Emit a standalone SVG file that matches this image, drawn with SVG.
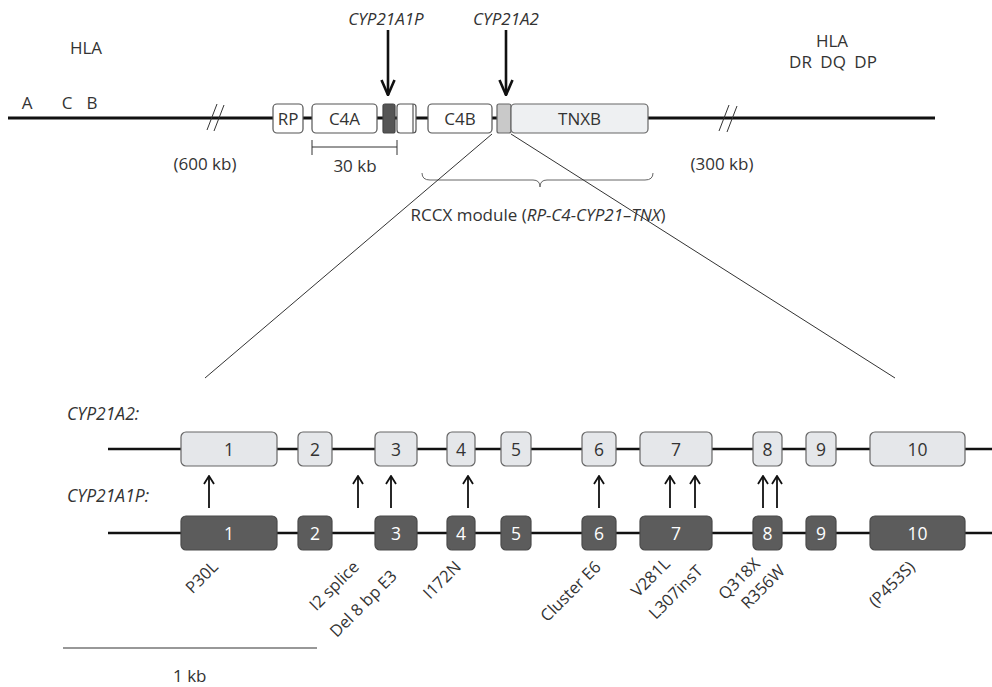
<svg xmlns="http://www.w3.org/2000/svg" width="992" height="687" viewBox="0 0 992 687">
<style>
text{font-family:"Open Sans","Noto Sans","Liberation Sans",sans-serif;fill:#333;font-size:17px}
.it{font-style:italic}
.c{text-anchor:middle}
.n{font-size:17.5px}
.chrom{stroke:#111;stroke-width:3;fill:none}
.gl{stroke:#111;stroke-width:2.5;fill:none}
.tb{stroke:#555;stroke-width:1.2;fill:#fff}
.ex1{fill:#e5e7ea;stroke:#666;stroke-width:1.2}
.ex2{fill:#5c5c5c;stroke:#4a4a4a;stroke-width:1.2}
.wt{fill:#fff}
.thin{stroke:#333;stroke-width:1;fill:none}
.arr{stroke:#111;stroke-width:1.8;fill:none}
.big{stroke:#111;stroke-width:2.6;fill:none}
.rot{text-anchor:end;font-size:16.5px}
</style>
<defs>
<marker id="ah" viewBox="0 0 10 12" refX="9" refY="6" markerWidth="10" markerHeight="12" markerUnits="userSpaceOnUse" orient="auto">
<path d="M1,1 L9,6 L1,11" fill="none" stroke="#111" stroke-width="1.8" stroke-linejoin="miter"/>
</marker>
<marker id="bh" viewBox="0 0 17 16" refX="16" refY="8" markerWidth="17" markerHeight="16" markerUnits="userSpaceOnUse" orient="auto">
<path d="M1,1.5 L16,8 L1,14.5" fill="none" stroke="#111" stroke-width="2.6" stroke-linejoin="miter"/>
</marker>
</defs>

<g id="chromosome">
<line class="chrom" x1="8" y1="118" x2="935" y2="118"/>
<path class="thin" d="M207,130 L217,104 M214,131 L224,105" stroke-width="1.2"/>
<path class="thin" d="M719,131 L729,105 M727,132 L737,106" stroke-width="1.2"/>
</g>

<g id="labels-top">
<text x="86" y="54" class="c">HLA</text>
<text x="27" y="109" class="c">A</text>
<text x="67" y="109" class="c">C</text>
<text x="92" y="109" class="c">B</text>
<text x="832" y="47" class="c">HLA</text>
<text x="833" y="68" class="c" word-spacing="4">DR DQ DP</text>
<text x="205" y="170" class="c">(600 kb)</text>
<text x="722" y="170" class="c">(300 kb)</text>
</g>

<g id="RP"><rect class="tb" x="273" y="104" width="30" height="29" rx="4"/><text x="288" y="124.5" class="c">RP</text></g>
<g id="C4A"><rect class="tb" x="312" y="104" width="65" height="29" rx="4"/><text x="344.5" y="124.5" class="c">C4A</text></g>
<g id="CYP21A1P-box"><rect x="383" y="104" width="12" height="29" rx="2" fill="#555" stroke="#444" stroke-width="1.2"/></g>
<g id="TNXA"><rect class="tb" x="397" y="104" width="19" height="29" rx="3"/><line x1="413" y1="104" x2="413" y2="133" stroke="#555" stroke-width="1.2"/></g>
<g id="C4B"><rect class="tb" x="428" y="104" width="64" height="29" rx="4"/><text x="460" y="124.5" class="c">C4B</text></g>
<g id="CYP21A2-box"><rect x="497" y="104" width="14" height="29" rx="2" fill="#c9c9c9" stroke="#666" stroke-width="1.2"/></g>
<g id="TNXB"><rect x="511" y="104" width="137" height="29" rx="4" fill="#eef0f2" stroke="#666" stroke-width="1.2"/><text x="579.5" y="124.5" class="c">TNXB</text></g>

<g id="top-arrows">
<text x="386" y="25" class="c it">CYP21A1P</text>
<line class="big" x1="388" y1="30" x2="388" y2="95" marker-end="url(#bh)"/>
<text x="506" y="25" class="c it">CYP21A2</text>
<line class="big" x1="506" y1="30" x2="506" y2="95" marker-end="url(#bh)"/>
</g>

<g id="scale30">
<path class="thin" d="M312,140 V155 M312,147 H397 M397,140 V155" stroke="#555"/>
<text x="355" y="172" class="c">30 kb</text>
</g>

<g id="rccx">
<path d="M422,173 Q422,180 430,180 L533,180 Q540,180 540,187 Q540,180 547,180 L645,180 Q653,180 653,173" fill="none" stroke="#666" stroke-width="1"/>
<text x="538" y="221" class="c">RCCX module (<tspan class="it">RP-C4-CYP21–TNX</tspan>)</text>
</g>

<g id="connectors">
<line class="thin" x1="492" y1="134" x2="205" y2="378"/>
<line class="thin" x1="511" y1="134" x2="895" y2="378"/>
<line class="arr" x1="209" y1="508" x2="209" y2="476" marker-end="url(#ah)"/>
<line class="arr" x1="358" y1="508" x2="358" y2="476" marker-end="url(#ah)"/>
<line class="arr" x1="391" y1="508" x2="391" y2="476" marker-end="url(#ah)"/>
<line class="arr" x1="468" y1="508" x2="468" y2="476" marker-end="url(#ah)"/>
<line class="arr" x1="599" y1="508" x2="599" y2="476" marker-end="url(#ah)"/>
<line class="arr" x1="670" y1="508" x2="670" y2="476" marker-end="url(#ah)"/>
<line class="arr" x1="695" y1="508" x2="695" y2="476" marker-end="url(#ah)"/>
<line class="arr" x1="763" y1="508" x2="763" y2="476" marker-end="url(#ah)"/>
<line class="arr" x1="777" y1="508" x2="777" y2="476" marker-end="url(#ah)"/>
</g>

<g id="CYP21A2-gene">
<text x="67" y="420" class="it n">CYP21A2:</text>
<line class="gl" x1="108" y1="449" x2="992" y2="449"/>
<g id="a2-e1"><rect class="ex1" x="181" y="432" width="96" height="34" rx="5"/><text x="229" y="455.5" class="c n">1</text></g>
<g id="a2-e2"><rect class="ex1" x="298" y="432" width="34" height="34" rx="5"/><text x="315" y="455.5" class="c n">2</text></g>
<g id="a2-e3"><rect class="ex1" x="375" y="432" width="42" height="34" rx="5"/><text x="396" y="455.5" class="c n">3</text></g>
<g id="a2-e4"><rect class="ex1" x="447" y="432" width="28" height="34" rx="5"/><text x="461" y="455.5" class="c n">4</text></g>
<g id="a2-e5"><rect class="ex1" x="501" y="432" width="30" height="34" rx="5"/><text x="516" y="455.5" class="c n">5</text></g>
<g id="a2-e6"><rect class="ex1" x="582" y="432" width="34" height="34" rx="5"/><text x="599" y="455.5" class="c n">6</text></g>
<g id="a2-e7"><rect class="ex1" x="640" y="432" width="72" height="34" rx="5"/><text x="676" y="455.5" class="c n">7</text></g>
<g id="a2-e8"><rect class="ex1" x="753" y="432" width="29" height="34" rx="5"/><text x="767.5" y="455.5" class="c n">8</text></g>
<g id="a2-e9"><rect class="ex1" x="806" y="432" width="30" height="34" rx="5"/><text x="821" y="455.5" class="c n">9</text></g>
<g id="a2-e10"><rect class="ex1" x="870" y="432" width="95" height="34" rx="5"/><text x="917.5" y="455.5" class="c n">10</text></g>
</g>

<g id="CYP21A1P-gene">
<text x="67" y="502" class="it n">CYP21A1P:</text>
<line class="gl" x1="108" y1="533" x2="992" y2="533"/>
<g id="a1-e1"><rect class="ex2" x="181" y="516" width="96" height="34" rx="5"/><text x="229" y="539.5" class="c n wt">1</text></g>
<g id="a1-e2"><rect class="ex2" x="298" y="516" width="34" height="34" rx="5"/><text x="315" y="539.5" class="c n wt">2</text></g>
<g id="a1-e3"><rect class="ex2" x="375" y="516" width="42" height="34" rx="5"/><text x="396" y="539.5" class="c n wt">3</text></g>
<g id="a1-e4"><rect class="ex2" x="447" y="516" width="28" height="34" rx="5"/><text x="461" y="539.5" class="c n wt">4</text></g>
<g id="a1-e5"><rect class="ex2" x="501" y="516" width="30" height="34" rx="5"/><text x="516" y="539.5" class="c n wt">5</text></g>
<g id="a1-e6"><rect class="ex2" x="582" y="516" width="34" height="34" rx="5"/><text x="599" y="539.5" class="c n wt">6</text></g>
<g id="a1-e7"><rect class="ex2" x="640" y="516" width="72" height="34" rx="5"/><text x="676" y="539.5" class="c n wt">7</text></g>
<g id="a1-e8"><rect class="ex2" x="753" y="516" width="29" height="34" rx="5"/><text x="767.5" y="539.5" class="c n wt">8</text></g>
<g id="a1-e9"><rect class="ex2" x="806" y="516" width="30" height="34" rx="5"/><text x="821" y="539.5" class="c n wt">9</text></g>
<g id="a1-e10"><rect class="ex2" x="870" y="516" width="95" height="34" rx="5"/><text x="917.5" y="539.5" class="c n wt">10</text></g>
</g>

<g id="mutations">
<text class="rot" transform="translate(219,568) rotate(-45)">P30L</text>
<text class="rot" transform="translate(360,568) rotate(-45)">I2 splice</text>
<text class="rot" transform="translate(398,577) rotate(-45)">Del 8 bp E3</text>
<text class="rot" transform="translate(462,568) rotate(-45)">I172N</text>
<text class="rot" transform="translate(602,568) rotate(-45)">Cluster E6</text>
<text class="rot" transform="translate(671,565) rotate(-45)">V281L</text>
<text class="rot" transform="translate(704,572) rotate(-45)">L307insT</text>
<text class="rot" transform="translate(761,565) rotate(-45)">Q318X</text>
<text class="rot" transform="translate(786,572) rotate(-45)">R356W</text>
<text class="rot" transform="translate(916,568) rotate(-45)">(P453S)</text>
</g>

<g id="scale1kb">
<line x1="63" y1="648" x2="317" y2="648" stroke="#333" stroke-width="1.2"/>
<text x="173" y="682">1 kb</text>
</g>
</svg>
